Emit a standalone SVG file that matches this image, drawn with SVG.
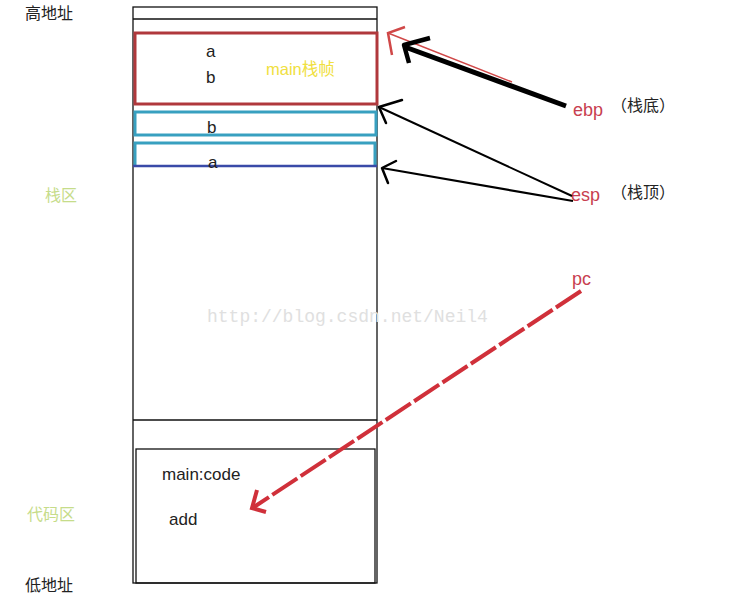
<svg xmlns="http://www.w3.org/2000/svg" width="737" height="605" viewBox="0 0 737 605">
<style>
.t{font-family:"Noto Sans CJK SC","Liberation Sans",sans-serif;font-size:16px;fill:#222}
.g{font-family:"Noto Sans CJK SC",sans-serif;font-size:16px;fill:#c6dc8a}
.r{font-family:"Liberation Sans",sans-serif;font-size:18px;fill:#c84050}
.e{font-family:"Liberation Sans","Noto Sans CJK SC",sans-serif;font-size:17px;fill:#222}
.line{fill:none;stroke:#111;stroke-width:1.3}
.ah{fill:none;stroke:#000;stroke-width:2.5;stroke-linecap:round;stroke-linejoin:round}
</style>
<rect width="737" height="605" fill="#fff"/>
<g id="memory">
<rect x="133" y="7" width="244" height="576" class="line"/>
<line x1="133" y1="19" x2="377" y2="19" class="line"/>
<line x1="133" y1="420" x2="377" y2="420" class="line"/>
</g>
<g id="main-frame">
<rect x="135" y="33" width="242" height="71" fill="none" stroke="#b0383c" stroke-width="3"/>
<text x="206" y="57" class="e">a</text>
<text x="206" y="83" class="e">b</text>
<text x="266" y="75" font-family="'Liberation Sans','Noto Sans CJK SC',sans-serif" font-size="16.5" fill="#f0e040">main栈帧</text>
</g>
<g id="slot-b">
<rect x="135" y="112" width="241" height="23" fill="none" stroke="#38a0c0" stroke-width="3"/>
<text x="207" y="133" class="e">b</text>
</g>
<g id="slot-a">
<path d="M135,165 V143 H375 V165" fill="none" stroke="#38a0c0" stroke-width="3"/>
<line x1="133" y1="166" x2="377" y2="166" stroke="#3a4aa8" stroke-width="2.5"/>
<text x="208" y="168" class="e">a</text>
</g>
<g id="code">
<rect x="136" y="449" width="239" height="134" class="line"/>
<text x="162" y="480" class="e">main:code</text>
<text x="169" y="525" class="e">add</text>
</g>
<g id="labels">
<text x="25" y="19" class="t">高地址</text>
<text x="45" y="201" class="g">栈区</text>
<text x="27" y="520" class="g">代码区</text>
<text x="25" y="591" class="t">低地址</text>
<text x="573" y="116" class="r">ebp</text>
<text x="611" y="111" class="t">（栈底）</text>
<text x="571" y="201" class="r">esp</text>
<text x="611" y="198" class="t">（栈顶）</text>
<text x="572" y="285" class="r" font-size="17">pc</text>
<text x="207" y="322" font-family="'Liberation Mono',monospace" font-size="18" fill="#e0e0e0">http://blog.csdn.net/Neil4</text>
</g>
<g id="connectors">
<path d="M512,82 L388,33" fill="none" stroke="#d04848" stroke-width="1.5"/>
<path d="M405,27 L388,33 L392,55" fill="none" stroke="#d04848" stroke-width="2.5"/>
<path d="M566,106 L405,47" fill="none" stroke="#000" stroke-width="5"/>
<path d="M430,38 L404,45 L409,63" fill="none" stroke="#000" stroke-width="4.5" stroke-linejoin="round"/>
<line x1="572" y1="196" x2="379" y2="107" stroke="#000" stroke-width="2"/>
<path d="M402,100 L379,107 L386,123" class="ah"/>
<line x1="573" y1="201" x2="382" y2="168" stroke="#000" stroke-width="2.2"/>
<path d="M396,161 L382,168 L388,183" class="ah"/>
<line x1="581" y1="291" x2="254" y2="507" stroke="#d0303a" stroke-width="4" stroke-dasharray="30,4"/>
<path d="M257,490 L252,508 L266,512" fill="none" stroke="#d0303a" stroke-width="4"/>
</g>
</svg>
